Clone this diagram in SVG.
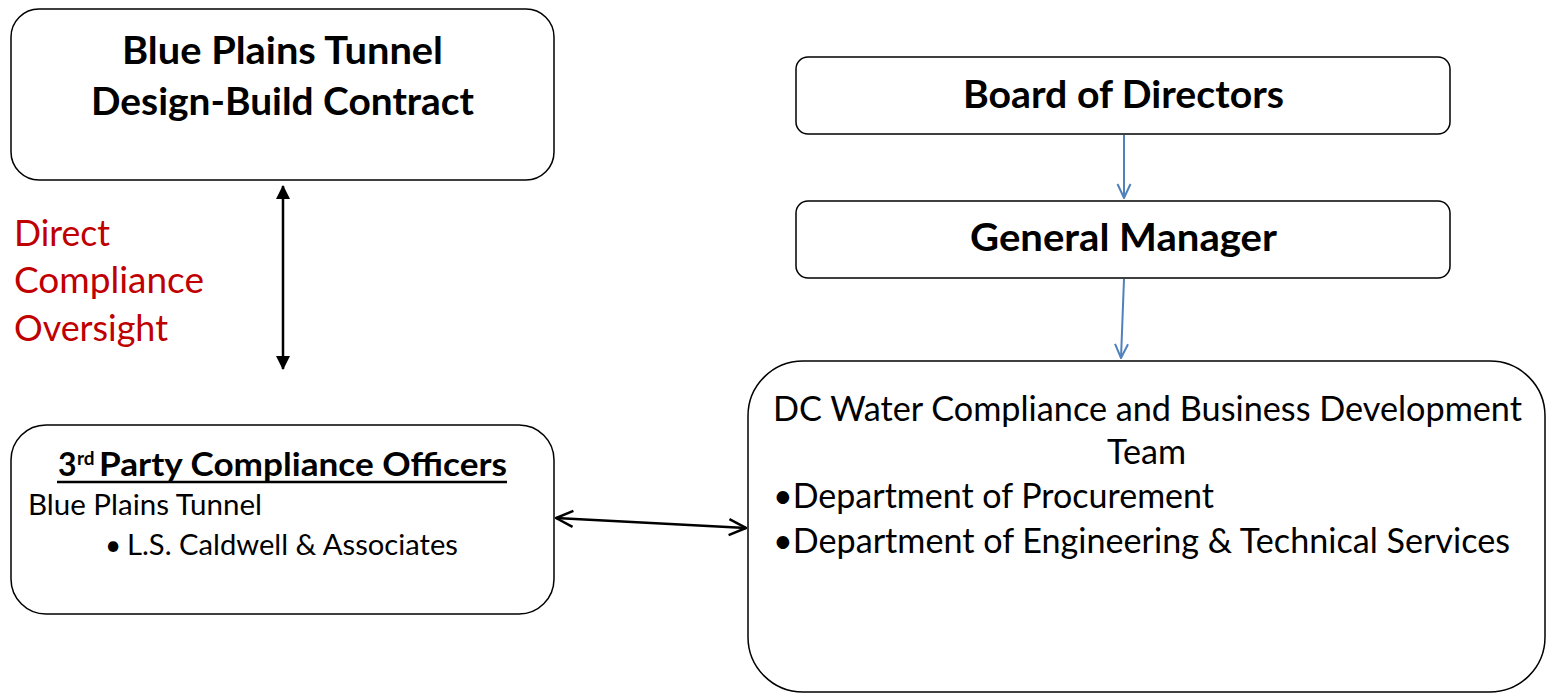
<svg xmlns="http://www.w3.org/2000/svg" width="1546" height="694" viewBox="0 0 1546 694">
<style>
.box{fill:#fff;stroke:#000;stroke-width:1.5}
.t{font-family:Lato,"Open Sans","Liberation Sans",sans-serif;fill:#000}
.b{font-weight:bold}
.red{fill:#C00000}
.blue{stroke:#4F81BD;stroke-width:2;fill:none}
.blk{stroke:#000;stroke-width:2.5;fill:none}
</style>
<defs>
<marker id="openBlue" viewBox="0 0 16 16" refX="15" refY="8" markerWidth="16" markerHeight="16" markerUnits="userSpaceOnUse" orient="auto">
<path d="M1,1.5 L15,8 L1,14.5" fill="none" stroke="#4F81BD" stroke-width="2"/>
</marker>
<marker id="openBlk" viewBox="0 0 20 20" refX="19" refY="10" markerWidth="20" markerHeight="20" markerUnits="userSpaceOnUse" orient="auto-start-reverse">
<path d="M2,2 L19,10 L2,18" fill="none" stroke="#000" stroke-width="2.5"/>
</marker>
<marker id="fillBlk" viewBox="0 0 14 14" refX="13" refY="7" markerWidth="14" markerHeight="14" markerUnits="userSpaceOnUse" orient="auto-start-reverse">
<path d="M0,0 L14,7 L0,14 Z" fill="#000"/>
</marker>
</defs>
<g id="node-contract">
<rect class="box" x="11" y="9" width="543" height="171" rx="28"/>
<text class="t b" x="122" y="64" font-size="38" textLength="321" lengthAdjust="spacingAndGlyphs">Blue Plains Tunnel</text>
<text class="t b" x="91" y="115" font-size="38" textLength="383" lengthAdjust="spacingAndGlyphs">Design-Build Contract</text>
</g>
<g id="node-board">
<rect class="box" x="796" y="57" width="654" height="77" rx="12"/>
<text class="t b" x="963" y="108" font-size="38" textLength="321" lengthAdjust="spacingAndGlyphs">Board of Directors</text>
</g>
<g id="node-gm">
<rect class="box" x="796" y="201" width="654" height="77" rx="12"/>
<text class="t b" x="970" y="251" font-size="38" textLength="307" lengthAdjust="spacingAndGlyphs">General Manager</text>
</g>
<g id="node-officers">
<rect class="box" x="11" y="425" width="543" height="189" rx="35"/>
<text class="t b" x="58" y="476" font-size="32">3</text>
<text class="t b" x="77" y="465" font-size="19">rd</text>
<text class="t b" x="99" y="476" font-size="32" textLength="408" lengthAdjust="spacingAndGlyphs">Party Compliance Officers</text>
<line x1="57" y1="482" x2="507" y2="482" stroke="#000" stroke-width="2.5"/>
<text class="t" x="28" y="515" font-size="28" textLength="234" lengthAdjust="spacingAndGlyphs">Blue Plains Tunnel</text>
<text class="t" x="105" y="555" font-size="28">•</text>
<text class="t" x="127" y="555" font-size="28" textLength="331" lengthAdjust="spacingAndGlyphs">L.S. Caldwell &amp; Associates</text>
</g>
<g id="node-team">
<rect class="box" x="748" y="361" width="797" height="331" rx="55"/>
<text class="t" x="773" y="421" font-size="34" textLength="749" lengthAdjust="spacingAndGlyphs">DC Water Compliance and Business Development</text>
<text class="t" x="1107" y="464" font-size="34" textLength="79" lengthAdjust="spacingAndGlyphs">Team</text>
<text class="t" x="773" y="508" font-size="34" textLength="441" lengthAdjust="spacingAndGlyphs">•Department of Procurement</text>
<text class="t" x="773" y="553" font-size="34" textLength="737" lengthAdjust="spacingAndGlyphs">•Department of Engineering &amp; Technical Services</text>
</g>
<g id="label-oversight">
<text class="t red" x="14" y="246" font-size="36" textLength="96" lengthAdjust="spacingAndGlyphs">Direct</text>
<text class="t red" x="14" y="293" font-size="36" textLength="190" lengthAdjust="spacingAndGlyphs">Compliance</text>
<text class="t red" x="14" y="341" font-size="36" textLength="154" lengthAdjust="spacingAndGlyphs">Oversight</text>
</g>
<g id="connectors">
<line class="blue" x1="1124" y1="135" x2="1124" y2="198" marker-end="url(#openBlue)"/>
<line class="blue" x1="1124" y1="279" x2="1121" y2="358" marker-end="url(#openBlue)"/>
<line class="blk" x1="283" y1="186" x2="283" y2="369" marker-start="url(#fillBlk)" marker-end="url(#fillBlk)"/>
<line class="blk" x1="556" y1="518" x2="746" y2="528" marker-start="url(#openBlk)" marker-end="url(#openBlk)"/>
</g>
</svg>
